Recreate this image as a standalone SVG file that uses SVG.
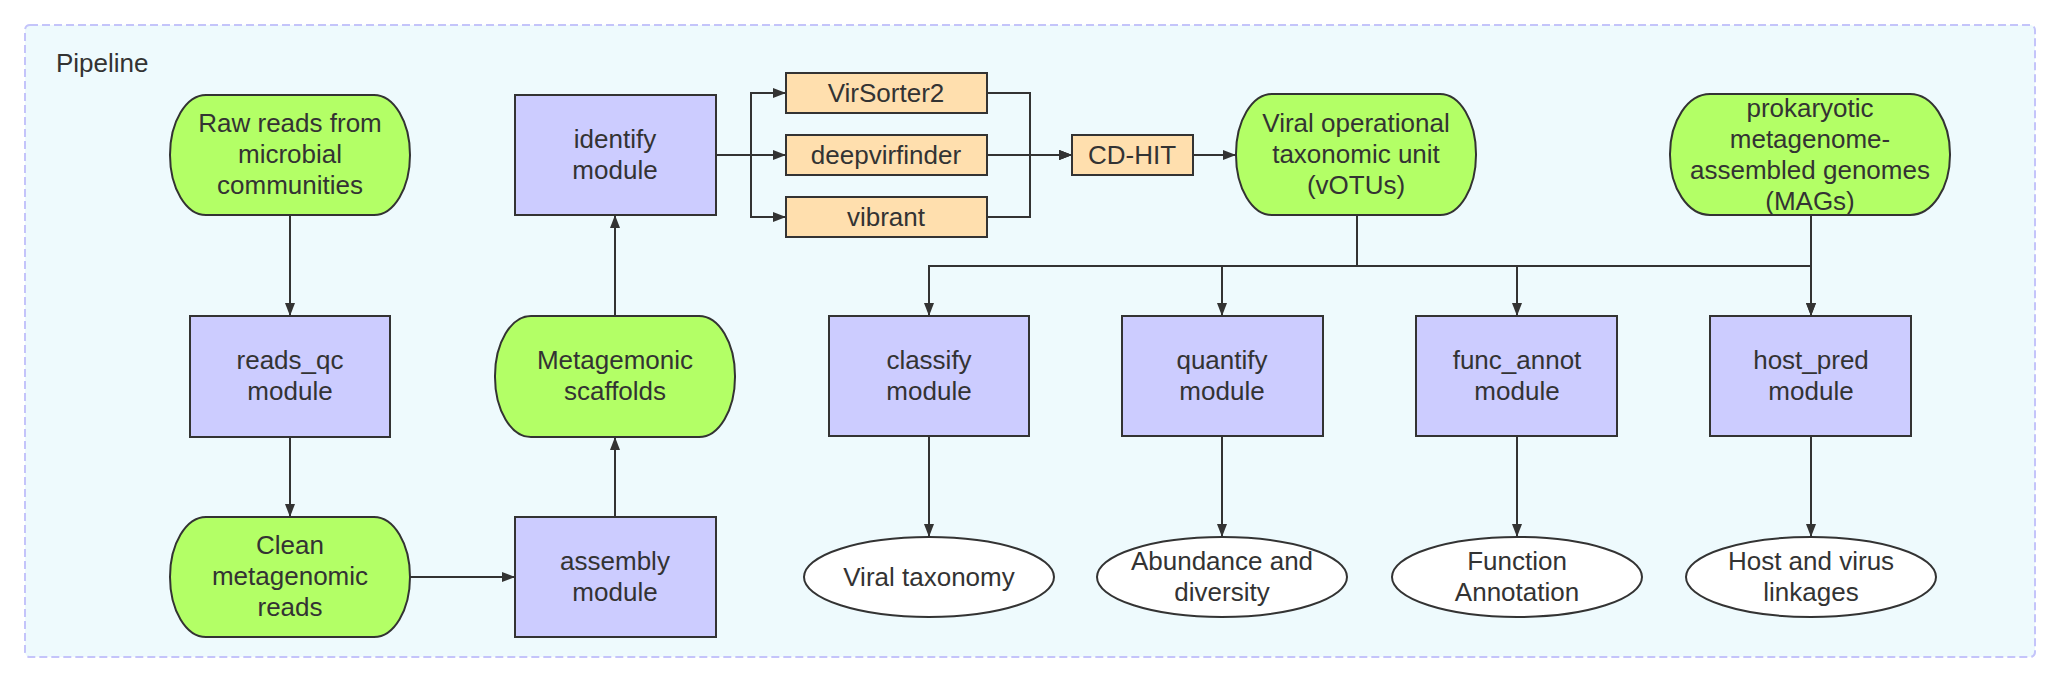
<svg xmlns="http://www.w3.org/2000/svg" width="2060" height="683" viewBox="0 0 2060 683">
<style>
text{font-family:"Liberation Sans",Arial,sans-serif;font-size:26px;fill:#333;text-anchor:middle}
.mod{fill:#ccccff;stroke:#333;stroke-width:2}
.data{fill:#b3ff66;stroke:#333;stroke-width:2}
.tool{fill:#ffdfae;stroke:#333;stroke-width:2}
.out{fill:#fff;stroke:#333;stroke-width:2}
.e{fill:none;stroke:#333;stroke-width:2}
</style>
<defs>
<marker id="ah" markerUnits="userSpaceOnUse" markerWidth="14" markerHeight="12" refX="13" refY="5" orient="auto">
<path d="M0,0 L13,5 L0,10 z" fill="#333"/>
</marker>
</defs>
<rect width="2060" height="683" fill="#fff"/>
<g id="pipeline">
<rect x="25" y="25" width="2010" height="632" rx="5" fill="#eefafd" stroke="#c4c4fa" stroke-width="2" stroke-dasharray="8 4"/>
<text x="56" y="72" style="text-anchor:start">Pipeline</text>
</g>
<g id="edges">
<path class="e" d="M290,215 V316" marker-end="url(#ah)"/>
<path class="e" d="M290,437 V517" marker-end="url(#ah)"/>
<path class="e" d="M410,577 H515" marker-end="url(#ah)"/>
<path class="e" d="M615,517 V437" marker-end="url(#ah)"/>
<path class="e" d="M615,316 V215" marker-end="url(#ah)"/>
<path class="e" d="M716,155 H751 V93 H786" marker-end="url(#ah)"/>
<path class="e" d="M716,155 H786" marker-end="url(#ah)"/>
<path class="e" d="M716,155 H751 V217 H786" marker-end="url(#ah)"/>
<path class="e" d="M987,93 H1030 V155 H1072" marker-end="url(#ah)"/>
<path class="e" d="M987,155 H1072" marker-end="url(#ah)"/>
<path class="e" d="M987,217 H1030 V155 H1072" marker-end="url(#ah)"/>
<path class="e" d="M1193,155 H1236" marker-end="url(#ah)"/>
<path class="e" d="M1357,215 V266 H929 V316" marker-end="url(#ah)"/>
<path class="e" d="M1357,215 V266 H1222 V316" marker-end="url(#ah)"/>
<path class="e" d="M1357,215 V266 H1517 V316" marker-end="url(#ah)"/>
<path class="e" d="M1357,215 V266 H1811 V316" marker-end="url(#ah)"/>
<path class="e" d="M1811,215 V316" marker-end="url(#ah)"/>
<path class="e" d="M929,436 V537" marker-end="url(#ah)"/>
<path class="e" d="M1222,436 V537" marker-end="url(#ah)"/>
<path class="e" d="M1517,436 V537" marker-end="url(#ah)"/>
<path class="e" d="M1811,436 V537" marker-end="url(#ah)"/>
</g>
<g id="raw"><rect class="data" x="170" y="95" width="240" height="120" rx="36" ry="60"/>
<text x="290" y="132">Raw reads from</text><text x="290" y="163">microbial</text><text x="290" y="194">communities</text></g>
<g id="reads_qc"><rect class="mod" x="190" y="316" width="200" height="121"/>
<text x="290" y="369">reads_qc</text><text x="290" y="400">module</text></g>
<g id="clean"><rect class="data" x="170" y="517" width="240" height="120" rx="36" ry="60"/>
<text x="290" y="554">Clean</text><text x="290" y="585">metagenomic</text><text x="290" y="616">reads</text></g>
<g id="assembly"><rect class="mod" x="515" y="517" width="201" height="120"/>
<text x="615" y="570">assembly</text><text x="615" y="601">module</text></g>
<g id="scaffolds"><rect class="data" x="495" y="316" width="240" height="121" rx="36" ry="60"/>
<text x="615" y="369">Metagemonic</text><text x="615" y="400">scaffolds</text></g>
<g id="identify"><rect class="mod" x="515" y="95" width="201" height="120"/>
<text x="615" y="148">identify</text><text x="615" y="179">module</text></g>
<g id="virsorter"><rect class="tool" x="786" y="73" width="201" height="40"/>
<text x="886" y="102">VirSorter2</text></g>
<g id="deepvirfinder"><rect class="tool" x="786" y="135" width="201" height="40"/>
<text x="886" y="164">deepvirfinder</text></g>
<g id="vibrant"><rect class="tool" x="786" y="197" width="201" height="40"/>
<text x="886" y="226">vibrant</text></g>
<g id="cdhit"><rect class="tool" x="1072" y="135" width="121" height="40"/>
<text x="1132" y="164">CD-HIT</text></g>
<g id="votu"><rect class="data" x="1236" y="94" width="240" height="121" rx="36" ry="60"/>
<text x="1356" y="132">Viral operational</text><text x="1356" y="163">taxonomic unit</text><text x="1356" y="194">(vOTUs)</text></g>
<g id="mags"><rect class="data" x="1670" y="94" width="280" height="121" rx="40" ry="60"/>
<text x="1810" y="117">prokaryotic</text><text x="1810" y="148">metagenome-</text><text x="1810" y="179">assembled genomes</text><text x="1810" y="210">(MAGs)</text></g>
<g id="classify"><rect class="mod" x="829" y="316" width="200" height="120"/>
<text x="929" y="369">classify</text><text x="929" y="400">module</text></g>
<g id="quantify"><rect class="mod" x="1122" y="316" width="201" height="120"/>
<text x="1222" y="369">quantify</text><text x="1222" y="400">module</text></g>
<g id="func_annot"><rect class="mod" x="1416" y="316" width="201" height="120"/>
<text x="1517" y="369">func_annot</text><text x="1517" y="400">module</text></g>
<g id="host_pred"><rect class="mod" x="1710" y="316" width="201" height="120"/>
<text x="1811" y="369">host_pred</text><text x="1811" y="400">module</text></g>
<g id="taxonomy"><ellipse class="out" cx="929" cy="577" rx="125" ry="40"/>
<text x="929" y="586">Viral taxonomy</text></g>
<g id="abundance"><ellipse class="out" cx="1222" cy="577" rx="125" ry="40"/>
<text x="1222" y="570">Abundance and</text><text x="1222" y="601">diversity</text></g>
<g id="function"><ellipse class="out" cx="1517" cy="577" rx="125" ry="40"/>
<text x="1517" y="570">Function</text><text x="1517" y="601">Annotation</text></g>
<g id="linkages"><ellipse class="out" cx="1811" cy="577" rx="125" ry="40"/>
<text x="1811" y="570">Host and virus</text><text x="1811" y="601">linkages</text></g>
</svg>
